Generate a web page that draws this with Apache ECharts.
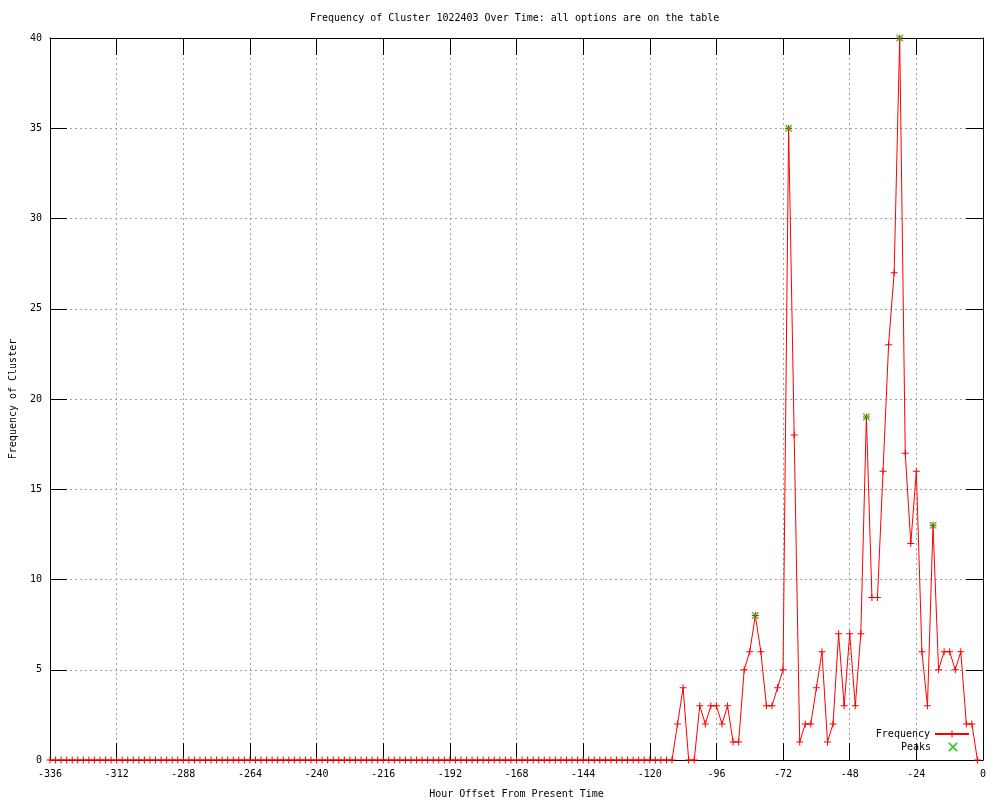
<!DOCTYPE html>
<html><head><meta charset="utf-8">
<script src="https://cdn.jsdelivr.net/npm/echarts@6/dist/echarts.min.js"></script>
<style>html,body{margin:0;padding:0;background:#fff}#c{width:1000px;height:800px}</style>
</head><body><div id="c"></div>
<script>
// Hour offsets run from -336 to -2 in steps of 2 hours
const startHour = -336;
const stepHours = 2;
const frequency = [
  0,0,0,0,0,0,0,0,0,0,
  0,0,0,0,0,0,0,0,0,0,
  0,0,0,0,0,0,0,0,0,0,
  0,0,0,0,0,0,0,0,0,0,
  0,0,0,0,0,0,0,0,0,0,
  0,0,0,0,0,0,0,0,0,0,
  0,0,0,0,0,0,0,0,0,0,
  0,0,0,0,0,0,0,0,0,0,
  0,0,0,0,0,0,0,0,0,0,
  0,0,0,0,0,0,0,0,0,0,
  0,0,0,0,0,0,0,0,0,0,
  0,0,0,
  2,4,0,0,3, 2,3,3,2,3, 1,1,5,6,8, 6,3,3,4,5,
  35,18,1,2,2, 4,6,1,2,7, 3,7,3,7,19, 9,9,16,23,27,
  40,17,12,16,6, 3,13,5,6,6, 5,6,2,2,0
];
const peakHours = [-82, -70, -42, -30, -18];
const peakValues = [8, 35, 19, 40, 13];

const titleText = 'Frequency of Cluster 1022403 Over Time: all options are on the table';
const xName = 'Hour Offset From Present Time';
const yName = 'Frequency of Cluster';

const freqData = frequency.map((v, i) => [startHour + i * stepHours, v]);
const peakData = peakHours.map((h, i) => [h, peakValues[i]]);

const font = '"DejaVu Sans Mono", "Liberation Mono", monospace';
const plusPath = 'path://M0,3H7V4H0Z M3,0H4V7H3Z';
const xPath = 'path://M0,0L1,0L7,6L7,7L6,7L0,1Z M7,0L7,1L1,7L0,7L0,6L6,0Z';

const gridLine = {show: true, lineStyle: {color: '#a0a0a0', type: [2, 3], width: 1}};
const axisLine = {show: true, onZero: false, lineStyle: {color: '#000', width: 1}};
const tick = {show: true, inside: true, length: 17, lineStyle: {color: '#000', width: 1}};
const label = {color: '#000', fontFamily: font, fontSize: 10};
const legendText = {fontFamily: font, fontSize: 10, color: '#000'};

const chart = echarts.init(document.getElementById('c'));
chart.setOption({
  animation: false,
  backgroundColor: '#fff',
  title: {
    text: titleText, left: 310, top: 13, padding: 0,
    textStyle: {fontFamily: font, fontSize: 10, fontWeight: 'normal', color: '#000'}
  },
  grid: {left: 50, right: 17, top: 38, bottom: 40, containLabel: false, outerBoundsMode: 'none'},
  xAxis: [
    {type: 'value', position: 'bottom', min: -336, max: 0, interval: 24,
     axisLine: axisLine, axisTick: tick, splitLine: gridLine,
     axisLabel: Object.assign({margin: 9}, label),
     name: xName, nameLocation: 'middle', nameGap: 29,
     nameTextStyle: {fontFamily: font, fontSize: 10, color: '#000'}},
    {type: 'value', position: 'top', min: -336, max: 0, interval: 24,
     axisLine: axisLine, axisTick: tick, splitLine: {show: false}, axisLabel: {show: false}}
  ],
  yAxis: [
    {type: 'value', position: 'left', min: 0, max: 40, interval: 5,
     axisLine: axisLine, axisTick: tick, splitLine: gridLine,
     axisLabel: Object.assign({margin: 8}, label),
     name: yName, nameLocation: 'middle', nameGap: 32,
     nameTextStyle: {fontFamily: font, fontSize: 10, color: '#000'}},
    {type: 'value', position: 'right', min: 0, max: 40, interval: 5,
     axisLine: axisLine, axisTick: tick, splitLine: {show: false}, axisLabel: {show: false}}
  ],
  legend: [
    {data: ['Frequency'], right: 30, top: 729, orient: 'vertical', align: 'right', padding: 0,
     itemWidth: 34, itemHeight: 9, selectedMode: false, textStyle: legendText},
    {data: ['Peaks'], right: 42.5, top: 742, orient: 'vertical', align: 'right', padding: 0,
     itemWidth: 34, itemHeight: 9, selectedMode: false, textStyle: legendText}
  ],
  series: [
    {name: 'Frequency', type: 'line', data: freqData, xAxisIndex: 0, yAxisIndex: 0,
     symbol: plusPath, symbolSize: 7, showAllSymbol: true, clip: false, z: 3,
     lineStyle: {color: '#ff0000', width: 1}, itemStyle: {color: '#ff0000'},
     emphasis: {disabled: true}},
    {name: 'Peaks', type: 'scatter', data: peakData, xAxisIndex: 0, yAxisIndex: 0,
     symbol: xPath, symbolSize: 7, z: 4,
     itemStyle: {color: '#00c000'}, emphasis: {disabled: true}}
  ]
});
</script>
</body></html>
